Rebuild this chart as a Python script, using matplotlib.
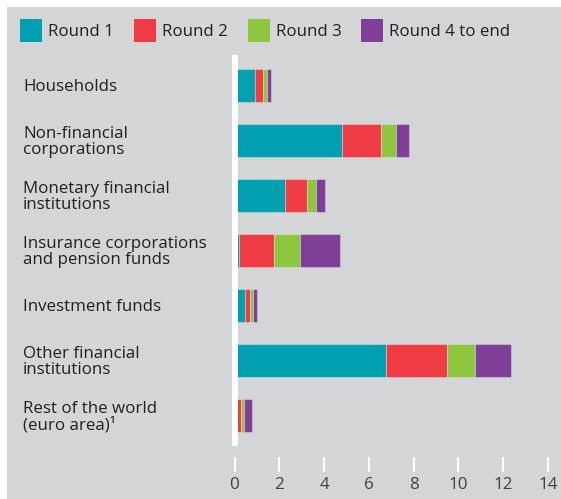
import matplotlib.pyplot as plt
from matplotlib.patches import Rectangle
from matplotlib.transforms import blended_transform_factory, ScaledTranslation

plt.rcParams['font.family'] = ['Open Sans', 'DejaVu Sans']

sectors = ['Households',
           'Non-financial\ncorporations',
           'Monetary financial\ninstitutions',
           'Insurance corporations\nand pension funds',
           'Investment funds',
           'Other financial\ninstitutions',
           'Rest of the world\n(euro area)\u00b9']
round1 = [0.90, 4.79, 2.27, 0.20, 0.47, 6.75, 0.08]
round2 = [0.38, 1.75, 0.97, 1.55, 0.22, 2.74, 0.21]
round3 = [0.17, 0.67, 0.41, 1.17, 0.15, 1.25, 0.13]
round4 = [0.19, 0.59, 0.40, 1.79, 0.15, 1.59, 0.36]
series_names = ['Round 1', 'Round 2', 'Round 3', 'Round 4 to end']
colors = ['#00a0b0', '#ef3b43', '#8dc63f', '#7f3f98']
xticks = [0, 2, 4, 6, 8, 10, 12, 14]

W, H = 561, 499
bg = '#d4d5d7'
txt = '#231f20'
fs = 12.2

fig = plt.figure(figsize=(W / 100, H / 100), dpi=100, facecolor='white')
# grey panel with a thin white margin on top and left
fig.patches.append(Rectangle((7 / W, 0), 1 - 7 / W, 1 - 7 / H,
                             transform=fig.transFigure, facecolor=bg,
                             edgecolor='none', zorder=-10))

x0, x1 = 234.5, 548.0
ytop, ybot = 57.5, 442.5
ax = fig.add_axes([x0 / W, 1 - ybot / H, (x1 - x0) / W, (ybot - ytop) / H])
ax.set_facecolor('none')

ypos = list(range(len(sectors)))
left = [0] * len(sectors)
for vals, name, c in zip([round1, round2, round3, round4], series_names, colors):
    ax.barh(ypos, vals, left=left, height=0.6, color=c,
            edgecolor=(1, 1, 1, 0.3), linewidth=0.8, label=name, zorder=2)
    left = [l + v for l, v in zip(left, vals)]

ax.set_xlim(0, 14)
ax.set_ylim(len(sectors) - 0.5, -0.5)

for s in ['top', 'right']:
    ax.spines[s].set_visible(False)
ax.spines['left'].set_color('white')
ax.spines['left'].set_linewidth(4.3)
ax.spines['left'].set_zorder(5)
ax.spines['bottom'].set_position(('outward', 10.4))
ax.spines['bottom'].set_visible(False)

ax.set_yticks([])
ax.set_xticks(xticks)
ax.set_xticklabels([str(t) for t in xticks])
ax.tick_params(axis='x', length=10.8, width=1.5, color='white',
               labelsize=fs, labelcolor='#404040', pad=3.8)

# category labels on the left, nudged down a little
down = ScaledTranslation(0, -2 / 100, fig.dpi_scale_trans)
tr = blended_transform_factory(fig.transFigure, ax.transData) + down
for y, lab in zip(ypos, sectors):
    ax.text(23 / W, y, lab, transform=tr, ha='left', va='center',
            fontsize=fs, color=txt, linespacing=1.02)

# legend row
legend_x = [20, 134, 248, 361]
for lx, name, c in zip(legend_x, series_names, colors):
    fig.patches.append(Rectangle((lx / W, 1 - 42 / H), 22 / W, 23 / H,
                                 transform=fig.transFigure, facecolor=c,
                                 edgecolor='none'))
    fig.text((lx + 28) / W, 1 - 32.5 / H, name, ha='left', va='center',
             fontsize=fs, color=txt)

fig.savefig('out.png', dpi=100, facecolor='white')
